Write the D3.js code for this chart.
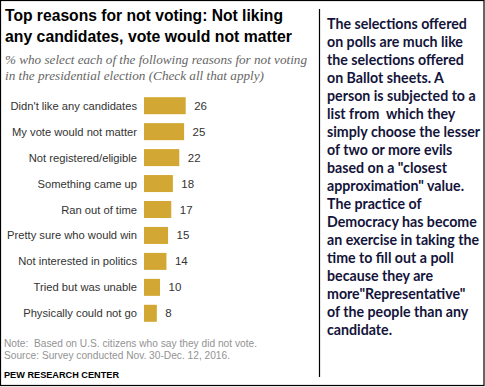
<!DOCTYPE html>
<html>
<head>
<meta charset="utf-8">
<script src="https://cdn.jsdelivr.net/npm/d3@7"></script>
<style>
  body { margin: 0; background: #fff; }
  svg { display: block; }
  text { white-space: pre; }
</style>
</head>
<body>
<svg width="485" height="387"></svg>
<script>
// data
var reasons = ["Didn't like any candidates", "My vote would not matter", "Not registered/eligible",
	"Something came up", "Ran out of time", "Pretty sure who would win",
	"Not interested in politics", "Tried but was unable", "Physically could not go"];
var shares = [26, 25, 22, 18, 17, 15, 14, 10, 8];

var titleLines = ["Top reasons for not voting: Not liking", "any candidates, vote would not matter"];
var subtitleLines = ["% who select each of the following reasons for not voting",
	"in the presidential election (Check all that apply)"];
var noteLines = ["Note:  Based on U.S. citizens who say they did not vote.",
	"Source: Survey conducted Nov. 30-Dec. 12, 2016."];
var creditLine = "PEW RESEARCH CENTER";

var commentLines = ["The selections offered", "on polls are much like", "the selections offered",
	"on Ballot sheets. A", "person is subjected to a", "list from  which they",
	"simply choose the lesser", "of two or more evils", "based on a \"closest",
	"approximation\" value.", "The practice of", "Democracy has become",
	"an exercise in taking the", "time to fill out a poll", "because they are",
	"more\"Representative\"", "of the people than any", "candidate."];

var svg = d3.select("svg"),
	width = +svg.attr("width"),
	height = +svg.attr("height");

// frame + divider
svg.append("rect")
	.attr("x", 0.5).attr("y", 0.5)
	.attr("width", 483.5).attr("height", 385)
	.attr("fill", "none").attr("stroke", "#000").attr("stroke-width", 1.2);
svg.append("line")
	.attr("x1", 319.5).attr("x2", 319.5).attr("y1", 9).attr("y2", 377)
	.attr("stroke", "#000").attr("stroke-width", 1.2);

// title
var titleW = [278, 287];
svg.append("g").selectAll("text")
	.data(titleLines)
	.enter().append("text")
	.attr("x", 5)
	.attr("y", function (d, i) { return 21 + i * 21; })
	.attr("textLength", function (d, i) { return titleW[i]; })
	.attr("lengthAdjust", "spacingAndGlyphs")
	.style("font-family", "'Liberation Sans Narrow', 'Liberation Sans', Arial, sans-serif")
	.style("font-weight", "bold")
	.style("font-size", "16.5px")
	.style("fill", "#000")
	.text(function (d) { return d; });

var subW = [302, 259];
svg.append("g").selectAll("text")
	.data(subtitleLines)
	.enter().append("text")
	.attr("x", 5)
	.attr("y", function (d, i) { return 64 + i * 15.5; })
	.attr("textLength", function (d, i) { return subW[i]; })
	.attr("lengthAdjust", "spacingAndGlyphs")
	.style("font-family", "'Liberation Serif', Georgia, serif")
	.style("font-style", "italic")
	.style("font-size", "12.5px")
	.style("fill", "#666")
	.text(function (d) { return d; });

// bars
var x = d3.scaleLinear().domain([0, 26]).range([144, 185.7]);
var y = d3.scaleBand().domain(reasons).range([92.8, 326.2]).paddingInner(0.345).paddingOuter(0.17);

var rows = svg.append("g").selectAll("g")
	.data(reasons)
	.enter().append("g");

rows.append("rect")
	.attr("x", x(0))
	.attr("y", function (d) { return y(d); })
	.attr("width", function (d, i) { return x(shares[i]) - x(0); })
	.attr("height", y.bandwidth())
	.attr("fill", "#d3a733");

rows.append("text")
	.attr("x", 137)
	.attr("y", function (d) { return y(d) + y.bandwidth() / 2 + 4; })
	.attr("text-anchor", "end")
	.style("font-family", "'Liberation Sans', Arial, sans-serif")
	.style("font-size", "11.2px")
	.style("fill", "#333")
	.text(function (d) { return d; });

rows.append("text")
	.attr("x", function (d, i) { return x(shares[i]) + 8.5; })
	.attr("y", function (d) { return y(d) + y.bandwidth() / 2 + 4; })
	.style("font-family", "'Liberation Sans', Arial, sans-serif")
	.style("font-size", "11.5px")
	.style("fill", "#333")
	.text(function (d, i) { return shares[i]; });

// notes
var noteW = [253, 226];
svg.append("g").selectAll("text")
	.data(noteLines)
	.enter().append("text")
	.attr("x", 4)
	.attr("y", function (d, i) { return 347 + i * 11.7; })
	.attr("textLength", function (d, i) { return noteW[i]; })
	.attr("lengthAdjust", "spacingAndGlyphs")
	.style("font-family", "'Liberation Sans', Arial, sans-serif")
	.style("font-size", "10.5px")
	.style("fill", "#939393")
	.text(function (d) { return d; });

svg.append("text")
	.attr("x", 4)
	.attr("y", 377.5)
	.attr("textLength", 115)
	.attr("lengthAdjust", "spacingAndGlyphs")
	.style("font-family", "'Liberation Sans', Arial, sans-serif")
	.style("font-weight", "bold")
	.style("font-size", "9.5px")
	.style("fill", "#000")
	.text(creditLine);

// comment panel on the right
svg.append("g").selectAll("text")
	.data(commentLines)
	.enter().append("text")
	.attr("x", 327)
	.attr("y", function (d, i) { return 29 + i * 18; })
	.style("font-family", "Lato, 'Open Sans', sans-serif")
	.style("font-weight", "bold")
	.style("font-size", "14.2px")
	.style("fill", "#14143a")
	.text(function (d) { return d; });
</script>
</body>
</html>
